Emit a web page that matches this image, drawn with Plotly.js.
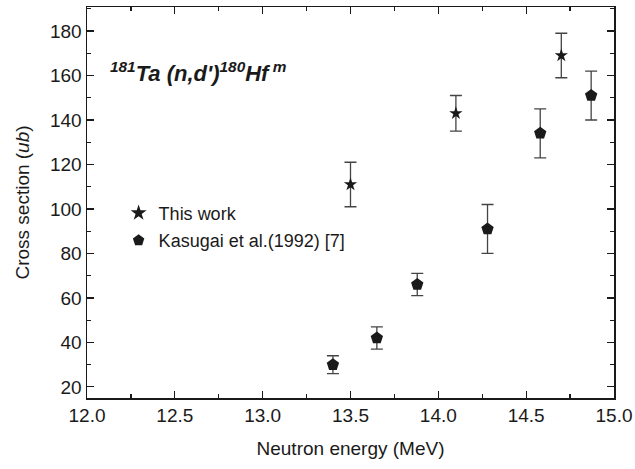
<!DOCTYPE html>
<html>
<head>
<meta charset="utf-8">
<script src="https://cdn.plot.ly/plotly-3.0.1.min.js"></script>
<style>html,body{margin:0;padding:0;background:#fff;}#chart{width:635px;height:469px;}</style>
</head>
<body>
<div id="chart"></div>
<script>
// This work
var thisWorkE = [13.5, 14.1, 14.7];
var thisWorkXS = [111, 143, 169];
var thisWorkErr = [10, 8, 10];
// Kasugai et al. (1992)
var kasugaiE = [13.4, 13.65, 13.88, 14.28, 14.58, 14.87];
var kasugaiXS = [30, 42, 66, 91, 134, 151];
var kasugaiErr = [4, 5, 5, 11, 11, 11];

var font = "Liberation Sans, Arial, sans-serif";
var traces = [
  {
    x: thisWorkE, y: thisWorkXS, type: 'scatter', mode: 'markers', name: 'This work', legendgroup: 'a',
    marker: {symbol: 'star', size: 10, color: '#1a1a1a'},
    error_y: {type: 'data', array: thisWorkErr, visible: true, color: '#444', thickness: 1.3, width: 6}
  },
  {
    x: kasugaiE, y: kasugaiXS, type: 'scatter', mode: 'markers', name: 'Kasugai et al.(1992) [7]', legendgroup: 'b',
    marker: {symbol: 'pentagon', size: 13, color: '#1a1a1a'},
    error_y: {type: 'data', array: kasugaiErr, visible: true, color: '#444', thickness: 1.3, width: 6}
  }
];

var axisCommon = {
  showgrid: false, zeroline: false, showline: true, linecolor: '#1a1a1a', linewidth: 1.5,
  mirror: 'ticks', ticks: 'inside', ticklen: 7, tickwidth: 1.2, tickcolor: '#1a1a1a',
  tickfont: {family: font, size: 19, color: '#1a1a1a'}
};

var layout = {
  width: 635, height: 469,
  margin: {l: 87, r: 21, t: 7, b: 71},
  paper_bgcolor: '#fff', plot_bgcolor: '#fff',
  showlegend: true,
  legend: {x: 0.06, y: 0.438, xanchor: 'left', yanchor: 'middle', bgcolor: 'rgba(0,0,0,0)',
           font: {family: font, size: 18, color: '#1a1a1a'}, traceorder: 'grouped', tracegroupgap: 1,
           itemsizing: 'constant'},
  xaxis: Object.assign({}, axisCommon, {
    range: [12.0, 15.0], tickvals: [12.0, 12.5, 13.0, 13.5, 14.0, 14.5, 15.0],
    ticktext: ['12.0', '12.5', '13.0', '13.5', '14.0', '14.5', '15.0'],
    minor: {dtick: 0.25, ticks: 'inside', ticklen: 4, tickcolor: '#1a1a1a', showgrid: false},
    title: {text: 'Neutron energy (MeV)', font: {family: font, size: 19, color: '#1a1a1a'}, standoff: 16}
  }),
  yaxis: Object.assign({}, axisCommon, {
    range: [15, 190.8], tickvals: [20, 40, 60, 80, 100, 120, 140, 160, 180],
    minor: {dtick: 10, ticks: 'inside', ticklen: 4, tickcolor: '#1a1a1a', showgrid: false},
    title: {text: 'Cross section (<i>ub</i>)', font: {family: font, size: 19, color: '#1a1a1a'}, standoff: 15}
  }),
  annotations: [{
    xref: 'paper', yref: 'paper', x: 0.04, y: 0.834, xanchor: 'left', yanchor: 'middle', showarrow: false,
    text: "<b><i><sup>181</sup>Ta (n,d')<sup>180</sup>Hf<sup> m</sup></i></b>",
    font: {family: font, size: 22, color: '#1a1a1a'}
  }]
};

Plotly.newPlot('chart', traces, layout, {displayModeBar: false, staticPlot: true});
</script>
</body>
</html>
